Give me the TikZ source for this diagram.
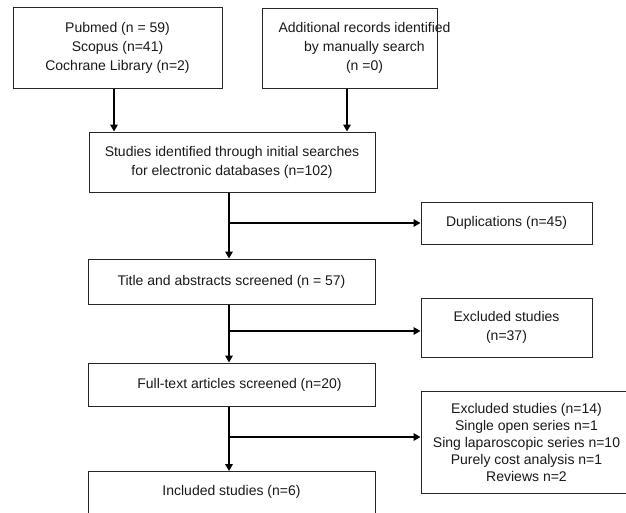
\documentclass[tikz,border=0pt]{standalone}
\usepackage{fontspec}
\setmainfont{Liberation Sans}
\usetikzlibrary{arrows.meta}

\begin{document}
\begin{tikzpicture}[x=1pt, y=-1pt, >={Triangle[length=7pt, width=7.5pt]},
    box/.style={draw=black!85, line width=1pt, align=center, inner sep=0pt,
        text=black!90, font=\fontsize{14}{19}\selectfont},
    testo/.style={align=center, inner sep=0pt, text=black!90,
        font=\fontsize{14}{19}\selectfont},
    freccia/.style={->, line width=2.6pt},
    ramo/.style={->, line width=2pt}]

    % Area del disegno
    \useasboundingbox (0,0) rectangle (626,512);

    % --- BLOCCHI (riquadri) ---
    % Fonti
    \node[box, minimum width=209pt, minimum height=81pt] (pub) at (117.5,47.5)
        {Pubmed (n = 59)\\Scopus (n=41)\\Cochrane Library (n=2)};
    \node[box, minimum width=175pt, minimum height=80pt] (man) at (349.5,48) {};
    \node[testo] (mantxt) at ([xshift=15pt]man.center)
        {Additional records identified\\by manually search\\(n =0)};

    % Colonna centrale
    \node[box, minimum width=286pt, minimum height=60pt] (id) at (232,162)
        {Studies identified through initial searches\\for electronic databases (n=102)};
    \node[box, minimum width=287pt, minimum height=45pt] (scr) at (231.5,281.5)
        {Title and abstracts screened (n = 57)};
    \node[box, minimum width=287pt, minimum height=43pt] (ft) at (231.5,384.5)
        {\hspace*{16pt}Full-text articles screened (n=20)};
    \node[box, anchor=north, minimum width=287pt, inner ysep=14pt,
        text height=10pt, text depth=60pt] (inc) at (231.5,471)
        {Included studies (n=6)};

    % Esclusioni (a destra)
    \node[box, minimum width=171pt, minimum height=42pt] (dup) at (506.5,223)
        {Duplications (n=45)};
    \node[box, minimum width=171pt, minimum height=59pt] (exc) at (506.5,327.5)
        {Excluded studies\\(n=37)};
    \node[box, minimum width=211pt, minimum height=102pt,
        font=\fontsize{14}{17}\selectfont] (exf) at (526.5,442)
        {Excluded studies (n=14)\\Single open series n=1\\Sing laparoscopic series n=10\\Purely cost analysis n=1\\Reviews n=2};

    % --- FRECCE ---
    % Fonti verso il blocco iniziale
    \draw[freccia] ([xshift=-3.5pt]pub.south) -- ([xshift=-3.5pt]pub.south |- id.north);
    \draw[freccia] ([xshift=-2.5pt]man.south) -- ([xshift=-2.5pt]man.south |- id.north);

    % Linea principale
    \coordinate (v1) at ([xshift=-3pt]id.south);
    \coordinate (v2) at ([xshift=-2.5pt]scr.south);
    \coordinate (v3) at ([xshift=-2.5pt]ft.south);
    \draw[freccia] (v1) -- (v1 |- scr.north);
    \draw[freccia] (v2) -- (v2 |- ft.north);
    \draw[freccia] (v3) -- (v3 |- inc.north);

    % Diramazioni verso le esclusioni
    \coordinate (h2) at ([yshift=-3.5pt]exc.west);
    \coordinate (h3) at ([yshift=5pt]exf.west);
    \draw[ramo] (v1 |- dup.west) -- (dup.west);
    \draw[ramo] (v2 |- h2) -- (h2);
    \draw[ramo] (v3 |- h3) -- (h3);

\end{tikzpicture}
\end{document}
